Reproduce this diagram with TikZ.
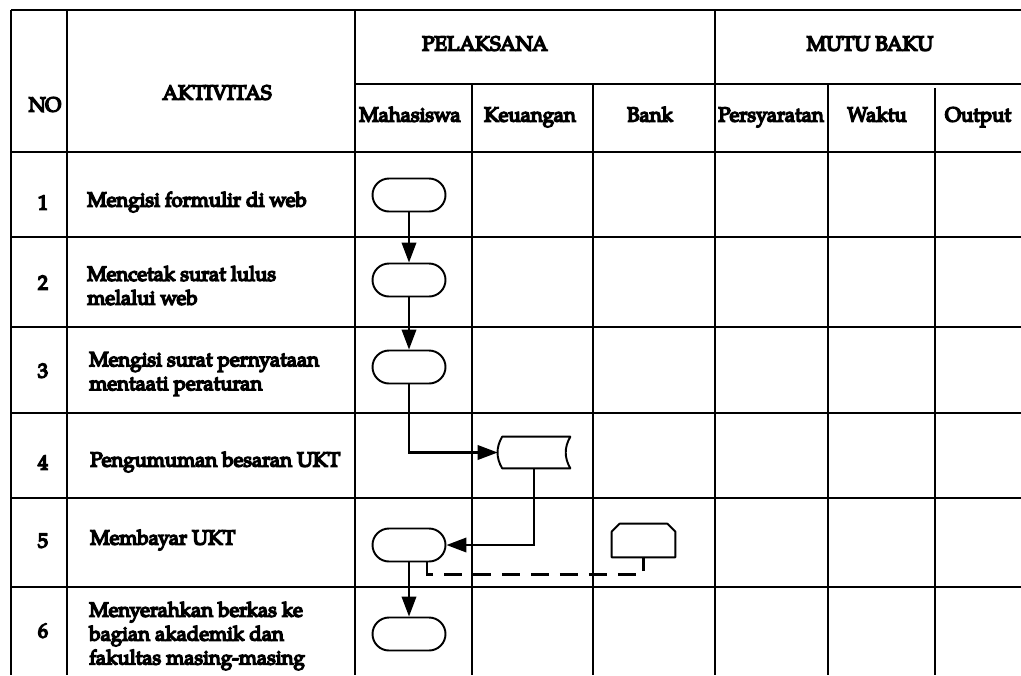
\documentclass[tikz,border=0pt]{standalone}
\usepackage{fontspec}
\setmainfont{TeX Gyre Pagella}[AutoFakeBold=7]
\usetikzlibrary{arrows.meta,positioning,shapes.misc,calc}

\begin{document}
\begin{tikzpicture}[
  font=\fontsize{11.6}{13.6}\selectfont\bfseries,
  gridline/.style={line width=1.1pt},
  shapeline/.style={line width=1.1pt,line join=round},
  celltext/.style={anchor=west,align=left,inner sep=0pt},
  headtext/.style={align=center,inner sep=0pt,text height=1.55ex,text depth=0.45ex},
  term/.style={draw,line width=1.1pt,rounded rectangle,minimum width=1.46cm,
    minimum height=0.66cm,inner sep=0pt},
  storebox/.style={minimum width=1.44cm,minimum height=0.62cm,inner sep=0pt},
  pagebox/.style={minimum width=1.26cm,minimum height=0.66cm,inner sep=0pt},
  flowline/.style={line width=1.2pt,-{Triangle[length=0.4cm,width=0.29cm]}},
  linkline/.style={line width=1.2pt,dash pattern=on 10pt off 6.5pt}
]
\useasboundingbox (0,0) rectangle (20.42,-13.5);
% table grid
\draw[gridline] (0.22,-0.20) -- (20.42,-0.20);
\draw[gridline] (7.10,-1.68) -- (20.42,-1.68);
\foreach \y in {-3.04,-4.74,-6.54,-8.26,-9.96,-11.74}
  \draw[gridline] (0.22,\y) -- (20.42,\y);
\foreach \x in {0.22,1.34,7.10,14.30}
  \draw[gridline] (\x,-0.20) -- (\x,-13.5);
\foreach \x in {9.44,11.86,16.56}
  \draw[gridline] (\x,-1.68) -- (\x,-13.5);
\draw[gridline] (18.70,-1.76) -- (18.70,-13.5);
% header
\node[headtext] (hno) at (0.90,-2.14) {NO};
\node[headtext] (hakt) at (4.34,-1.90) {AKTIVITAS};
\node[headtext] (hpel) at (9.70,-0.92) {PELAKSANA};
\node[headtext] (hmutu) at (17.40,-0.92) {MUTU BAKU};
\node[headtext] (hmhs) at (8.20,-2.34) {Mahasiswa};
\node[headtext] (hkeu) at (10.60,-2.34) {Keuangan};
\node[headtext] (hbank) at (13.00,-2.34) {Bank};
\node[headtext] (hsyarat) at (15.42,-2.34) {Persyaratan};
\node[headtext] (hwaktu) at (17.54,-2.34) {Waktu};
\node[headtext] (houtput) at (19.56,-2.34) {Output};
% rows
\node[headtext] (no1) at (0.86,-4.10) {1};
\node[headtext] (no2) at (0.86,-5.70) {2};
\node[headtext] (no3) at (0.86,-7.46) {3};
\node[headtext] (no4) at (0.86,-9.30) {4};
\node[headtext] (no5) at (0.86,-10.86) {5};
\node[headtext] (no6) at (0.86,-12.66) {6};
\node[celltext] (akt1) at (1.74,-4.04) {Mengisi formulir di web};
\node[celltext] (akt2) at (1.74,-5.71) {Mencetak surat lulus\\melalui web};
\node[celltext] (akt3) at (1.78,-7.48) {Mengisi surat pernyataan\\mentaati peraturan};
\node[celltext] (akt4) at (1.80,-9.24) {Pengumuman besaran UKT};
\node[celltext] (akt5) at (1.80,-10.80) {Membayar UKT};
\node[celltext] (akt6) at (1.78,-12.72) {Menyerahkan berkas ke\\bagian akademik dan\\fakultas masing-masing};
% flow
\node[term] (t1) at (8.18,-3.90) {};
\node[term] (t2) at (8.18,-5.60) {};
\node[term] (t3) at (8.18,-7.34) {};
\node[storebox] (ukt) at (10.68,-9.05) {};
\draw[shapeline] ([xshift=0.09cm]ukt.north west) -- (ukt.north east)
  to[bend right=30] (ukt.south east) -- ([xshift=0.09cm]ukt.south west)
  to[bend left=30] ([xshift=0.09cm]ukt.north west) -- cycle;
\node[term] (t5) at (8.18,-10.90) {};
\node[pagebox] (bank) at (12.87,-10.81) {};
\draw[shapeline] (bank.south west) -- ([yshift=-0.16cm]bank.north west)
  -- ([xshift=0.16cm]bank.north west) -- ([xshift=-0.16cm]bank.north east)
  -- ([yshift=-0.16cm]bank.north east) -- (bank.south east) -- cycle;
\node[term] (t6) at (8.18,-12.68) {};
\draw[flowline] (t1) -- (t2);
\draw[flowline] (t2) -- (t3);
\draw[flowline] (t3.south) |- (ukt.west);
\draw[flowline] (ukt.south) |- (t5.east);
\draw[flowline] (t5) -- (t6);
\draw[linkline] ([xshift=0.36cm]t5.south) -- ++(0,-0.24) -| (bank.south);
\end{tikzpicture}
\end{document}
